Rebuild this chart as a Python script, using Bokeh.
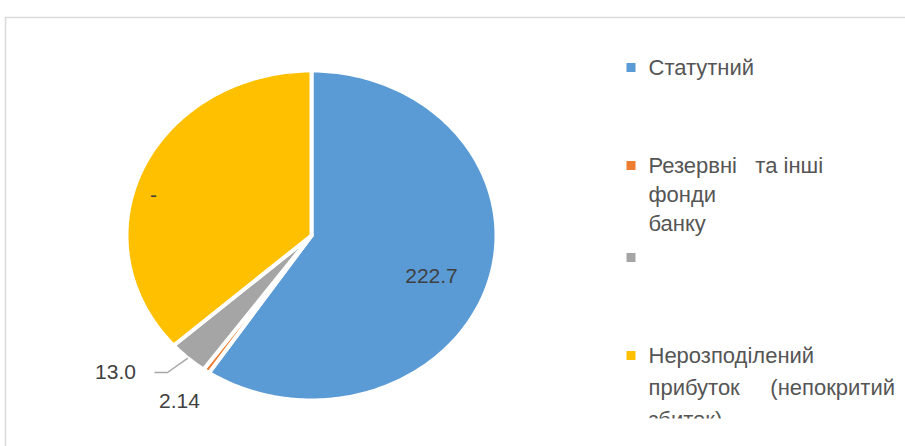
import math
from bokeh.plotting import figure
from bokeh.models import Range1d, ColumnDataSource
from bokeh.embed import file_html
from bokeh.resources import INLINE
from bokeh.core.properties import value

# ---------------- data ----------------
categories = ["Статутний",
              "Резервні та інші фонди банку",
              "",
              "Нерозподілений прибуток (непокритий збиток)"]
values = [222.7, 2.14, 13.0, 137.4]
data_labels = ["222.7", "2.14", "13.0", "-"]
colors = ["#5b9bd5", "#ed7d31", "#a5a5a5", "#ffc000"]
NB = "\u00a0"
legend_lines = [["Статутний"],
                ["Резервні" + NB * 3 + "та" + NB + "інші", "фонди", "банку"],
                [""],
                ["Нерозподілений", "прибуток" + NB * 5 + "(непокритий", "збиток)"]]

# ---------------- layout ----------------
W, H = 905, 446
CX, CY, RX, RY = 311.0, 235.0, 185.0, 165.0
label_pos = [(431, 275), (179, 400), (115, 371), (153, 194)]
legend_first_y = [67, 165, 257, 355]
legend_line_gap = [0, 29, 0, 32]
LEG_SQ_X, LEG_TXT_X = 630.5, 648

p = figure(width=W, height=H, x_range=Range1d(0, W), y_range=Range1d(H, 0),
           output_backend="svg", toolbar_location=None, min_border=0,
           x_axis_location=None, y_axis_location=None)
p.grid.visible = False
p.outline_line_color = None
p.background_fill_color = "white"
p.border_fill_color = "white"

# chart border (light gray frame)
p.line([5, 5, W + 10], [H + 10, 17, 17], line_color="#d9d9d9", line_width=1.5)

# ---------------- pie (elliptical, drawn from values) ----------------
total = sum(values)
xs, ys, mids = [], [], []
start = 0.0
for v in values:
    sweep = v / total * 2 * math.pi
    n = max(2, int(sweep / (2 * math.pi) * 360))
    px = [CX]
    py = [CY]
    for i in range(n + 1):
        t = start + sweep * i / n
        px.append(CX + RX * math.sin(t))
        py.append(CY - RY * math.cos(t))
    xs.append(px)
    ys.append(py)
    mids.append(start + sweep / 2)
    start += sweep

p.patches(xs, ys, fill_color=colors, line_color="white", line_width=4,
          line_join="round")

# leader line for the gray slice label
gm = mids[2]
ex, ey = CX + RX * math.sin(gm), CY - RY * math.cos(gm)
p.line([label_pos[2][0] + 39, label_pos[2][0] + 52, ex],
       [label_pos[2][1] + 1, label_pos[2][1] + 1, ey],
       line_color="#a6a6a6", line_width=1.5)

lab_src = ColumnDataSource(dict(x=[q[0] for q in label_pos],
                                y=[q[1] for q in label_pos],
                                t=data_labels))
p.text(x="x", y="y", text="t", source=lab_src, text_align="center",
       text_baseline="middle", text_font=value("Liberation Sans"),
       text_font_size="21px", text_color="#404040")

# ---------------- legend ----------------
p.rect(x=[LEG_SQ_X] * 4, y=legend_first_y, width=9, height=9,
       fill_color=colors, line_color=None)
lx, ly, lt = [], [], []
for k, lines in enumerate(legend_lines):
    for j, s in enumerate(lines):
        if s:
            lx.append(LEG_TXT_X)
            ly.append(legend_first_y[k] + j * legend_line_gap[k])
            lt.append(s)
p.text(x=lx, y=ly, text=lt, text_align="left", text_baseline="middle",
       text_font=value("Liberation Sans"), text_font_size="22px",
       text_color="#555555")

# legend area clipped at the bottom (as in the reference)
p.quad(left=[600], right=[W + 5], top=[418], bottom=[H + 5],
       fill_color="white", line_color=None)

open("out.html", "w").write(file_html(p, INLINE))
